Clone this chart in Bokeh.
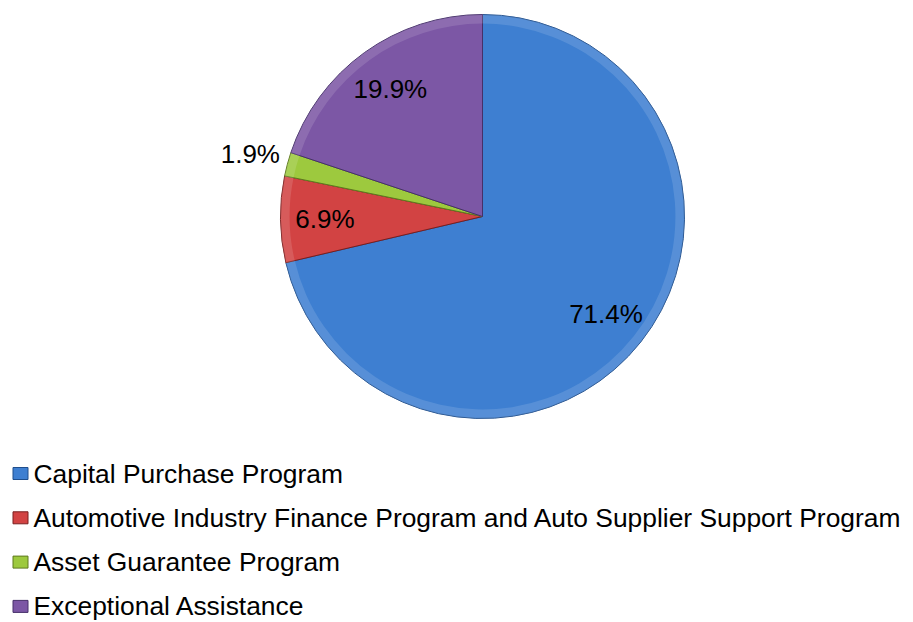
import math
from bokeh.plotting import figure
from bokeh.models import Range1d, ColumnDataSource
from bokeh.core.properties import value
from bokeh.embed import file_html
from bokeh.resources import INLINE

# ---- data ----
categories = [
    "Capital Purchase Program",
    "Automotive Industry Finance Program and Auto Supplier Support Program",
    "Asset Guarantee Program",
    "Exceptional Assistance",
]
shares = [71.4, 6.9, 1.9, 19.9]
labels = ["71.4%", "6.9%", "1.9%", "19.9%"]

# ---- styles ----
colors = ["#3E7FD1", "#D24343", "#9DC93E", "#7C57A5"]
edges = ["#1F4E8C", "#7A1E1E", "#5E7A1E", "#46306A"]

W, H = 913, 622
p = figure(width=W, height=H, output_backend="svg", toolbar_location=None,
           x_range=Range1d(0, W), y_range=Range1d(0, H), min_border=0)
p.axis.visible = False
p.grid.visible = False
p.outline_line_color = None
p.background_fill_color = "white"
p.border_fill_color = "white"

cx, cy, R = 482, 406, 202
total = sum(shares)
starts, ends, mids = [], [], []
acc = 0.0
for s in shares:
    a0 = math.pi / 2 - acc / total * 2 * math.pi
    acc += s
    a1 = math.pi / 2 - acc / total * 2 * math.pi
    starts.append(a0)
    ends.append(a1)
    mids.append((a0 + a1) / 2)

src = ColumnDataSource(dict(start=starts, end=ends, color=colors, edge=edges))
p.wedge(x=cx, y=cy, radius=R, start_angle="start", end_angle="end",
        direction="clock", fill_color="color", line_color="edge",
        line_width=1, source=src)
# rim highlight (bevel look)
p.annular_wedge(x=cx, y=cy, inner_radius=R * 0.955, outer_radius=R,
                start_angle="start", end_angle="end", direction="clock",
                fill_color="white", fill_alpha=0.13, line_color=None, source=src)

lx, ly = [], []
for s, m in zip(shares, mids):
    f = 0.78 if s > 5 else 1.19
    lx.append(cx + f * R * math.cos(m))
    ly.append(cy + f * R * math.sin(m))
p.text(x=lx, y=ly, text=labels, text_align="center", text_baseline="middle",
       text_font=value("Liberation Sans"), text_font_size="26px", text_color="black")

# legend
row0, step = 149, 44.3
leg_y = [row0 - i * step for i in range(len(categories))]
p.rect(x=[20] * len(categories), y=leg_y, width=15, height=12,
       fill_color=colors, line_color=edges, line_width=1)
p.text(x=[33] * len(categories), y=leg_y, text=categories, text_align="left",
       text_baseline="middle", text_font=value("Liberation Sans"),
       text_font_size="26.4px", text_color="black")

open("out.html", "w").write(file_html(p, INLINE))
